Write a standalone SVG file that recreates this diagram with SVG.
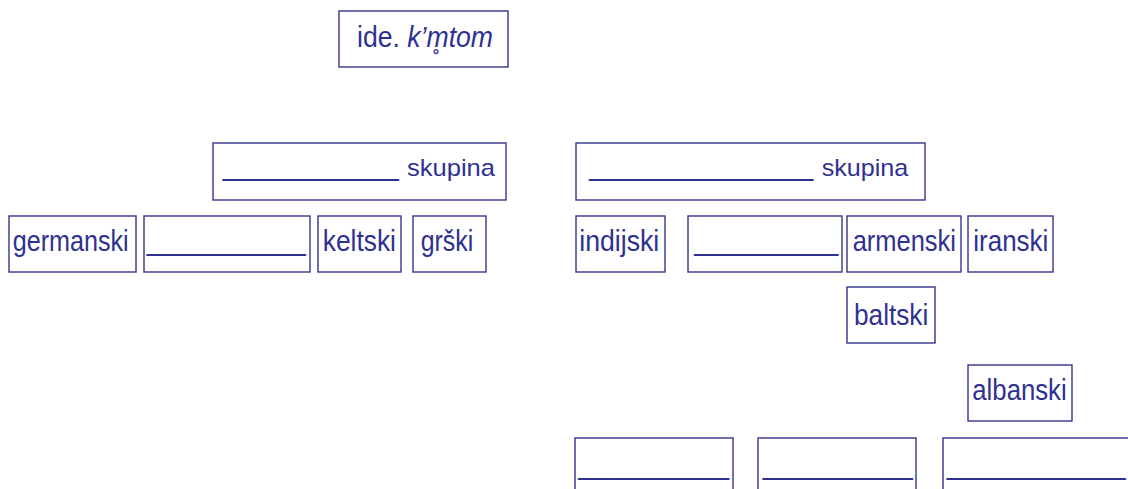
<svg xmlns="http://www.w3.org/2000/svg" width="1128" height="489" viewBox="0 0 1128 489">
<style>
.box{fill:#fff;stroke:#35358f;stroke-width:1.4}
.t{font-family:"Liberation Sans",Arial,sans-serif;font-size:30px;fill:#2e3192}
.s{font-family:"Liberation Sans",Arial,sans-serif;font-size:24px;fill:#2e3192}
</style>
<rect width="1128" height="489" fill="#fff"/>
<g id="connectors"/>
<g id="n-ide"><rect class="box" x="339" y="11" width="169" height="56"/><text class="t" x="357" y="47" textLength="136" lengthAdjust="spacingAndGlyphs">ide. <tspan font-style="italic">k’m̥tom</tspan></text></g>
<g id="n-skupina-l"><rect class="box" x="213" y="143" width="293" height="57"/><text class="t" x="222.7" y="175" textLength="176" lengthAdjust="spacingAndGlyphs">___________</text><text class="s" x="407" y="176" textLength="88" lengthAdjust="spacingAndGlyphs">skupina</text></g>
<g id="n-germanski"><rect class="box" x="9" y="216" width="127" height="56"/><text class="t" x="12.7" y="251" textLength="116" lengthAdjust="spacingAndGlyphs">germanski</text></g>
<g id="n-blank1"><rect class="box" x="144" y="216" width="166" height="56"/><text class="t" x="146.7" y="250" textLength="159" lengthAdjust="spacingAndGlyphs">__________</text></g>
<g id="n-keltski"><rect class="box" x="318" y="216" width="83" height="56"/><text class="t" x="322.7" y="251" textLength="73.3" lengthAdjust="spacingAndGlyphs">keltski</text></g>
<g id="n-grski"><rect class="box" x="413" y="216" width="73" height="56"/><text class="t" x="420.7" y="251" textLength="52.6" lengthAdjust="spacingAndGlyphs">grški</text></g>
<g id="n-skupina-r"><rect class="box" x="576" y="143" width="349" height="57"/><text class="t" x="589.3" y="175" textLength="224" lengthAdjust="spacingAndGlyphs">______________</text><text class="s" x="821.7" y="176" textLength="86.6" lengthAdjust="spacingAndGlyphs">skupina</text></g>
<g id="n-indijski"><rect class="box" x="576" y="216" width="89" height="56"/><text class="t" x="579.3" y="251" textLength="80" lengthAdjust="spacingAndGlyphs">indijski</text></g>
<g id="n-blank2"><rect class="box" x="688" y="216" width="154" height="56"/><text class="t" x="694.3" y="250" textLength="144" lengthAdjust="spacingAndGlyphs">_________</text></g>
<g id="n-armenski"><rect class="box" x="847" y="216" width="114" height="56"/><text class="t" x="852.7" y="251" textLength="103.3" lengthAdjust="spacingAndGlyphs">armenski</text></g>
<g id="n-iranski"><rect class="box" x="968" y="216" width="85" height="56"/><text class="t" x="973.3" y="251" textLength="75" lengthAdjust="spacingAndGlyphs">iranski</text></g>
<g id="n-baltski"><rect class="box" x="847" y="287" width="88" height="56"/><text class="t" x="854" y="325" textLength="74.3" lengthAdjust="spacingAndGlyphs">baltski</text></g>
<g id="n-albanski"><rect class="box" x="968" y="365" width="104" height="56"/><text class="t" x="972.3" y="399.5" textLength="94.4" lengthAdjust="spacingAndGlyphs">albanski</text></g>
<g id="n-blank3"><rect class="box" x="575" y="438" width="158" height="70"/><text class="t" x="578.3" y="474" textLength="150.7" lengthAdjust="spacingAndGlyphs">__________</text></g>
<g id="n-blank4"><rect class="box" x="758" y="438" width="158" height="70"/><text class="t" x="762.7" y="474" textLength="150" lengthAdjust="spacingAndGlyphs">__________</text></g>
<g id="n-blank5"><rect class="box" x="943" y="438" width="200" height="70"/><text class="t" x="946.7" y="474" textLength="179" lengthAdjust="spacingAndGlyphs">____________</text></g>
</svg>
